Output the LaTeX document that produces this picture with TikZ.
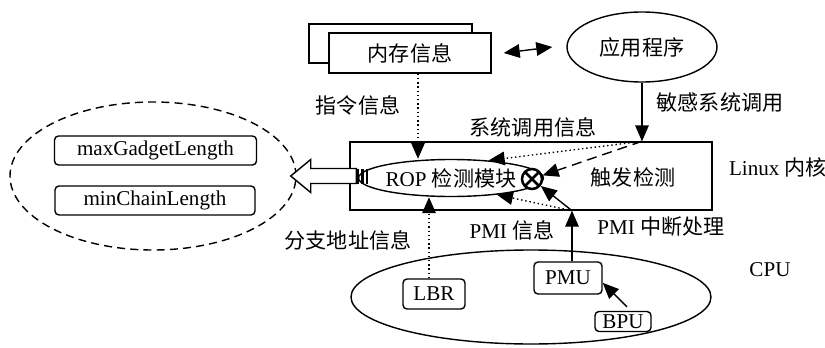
\documentclass[tikz,border=0pt]{standalone}
\usepackage{fontspec}
\setmainfont{Liberation Serif}
\newfontfamily\cjk{Noto Sans CJK SC}
\usepackage{tikz}
\usetikzlibrary{shapes,arrows.meta}
\tikzstyle{rectblock} = [rectangle, draw, line width=1pt, align=center, inner sep=1pt]
\tikzstyle{block} = [rectblock, rounded corners=1mm]
\tikzstyle{oval} = [ellipse, draw, line width=1pt, inner sep=0pt]
\tikzstyle{arrow} = [draw, line width=1pt, -{Triangle[length=4mm, width=3.4mm]}]
\tikzstyle{dblarrow} = [arrow, {Triangle[length=4mm, width=3.4mm]}-{Triangle[length=4mm, width=3.4mm]}]
\tikzstyle{dotarrow} = [arrow, dotted]
\tikzstyle{dasharrow} = [arrow, dash pattern=on 2.5mm off 1.5mm]

\begin{document}
\begin{tikzpicture}[font=\fontsize{15}{18}\selectfont]
    \useasboundingbox (0, 0) rectangle (20.625, 8.675);
    % memory and application
    \node[rectblock, minimum width=4.075cm, minimum height=0.975cm] at (9.7625, 7.5875) (memback) {};
    \node[rectblock, fill=white, minimum width=4.05cm, minimum height=1cm] at (10.25, 7.35) (mem) {\cjk 内存信息};
    \node[oval, minimum width=3.75cm, minimum height=1.75cm] at (16.05, 7.5) (app) {\cjk 应用程序};
    \path[dblarrow] ([xshift=0.3cm]mem.east) to ([xshift=-0.35cm]app.west);
    
    % kernel
    \node[rectblock, minimum width=9.05cm, minimum height=1.7cm] at (13.275, 4.275) (kern) {};
    \node at (15.825, 4.25) (trigdet) {\cjk 触发检测};
    \node at (19.45, 4.5) (linux) {Linux {\cjk 内核}};
    \node[oval, minimum width=3.95cm, minimum height=0.925cm] at (11.275, 4.225) (rop) {ROP {\cjk 检测模块}};
    \node[circle, draw, fill=white, line width=1.8pt, minimum size=0.5cm, inner sep=0pt,
          path picture={\draw[line width=1.8pt] (path picture bounding box.south west) -- (path picture bounding box.north east)
                        (path picture bounding box.north west) -- (path picture bounding box.south east);}] at (13.3, 4.2) (cross) {};
    
    % parameters
    \node[oval, dash pattern=on 2mm off 1.3mm, minimum width=7.15cm, minimum height=3.7cm] at (3.825, 4.275) (params) {};
    \node[block, minimum width=5.05cm, minimum height=0.725cm] at (3.8875, 4.9125) (maxg) {maxGadgetLength};
    \node[block, minimum width=5.0cm, minimum height=0.725cm] at (3.875, 3.6625) (minc) {minChainLength};
    \coordinate (tip) at ([xshift=-0.15cm]params.east);
    \draw[line width=1pt, fill=white] ([xshift=0.175cm, yshift=0.1875cm]kern.west) -| ([xshift=0.5cm, yshift=0.4125cm]tip)
        -- (tip) -- ([xshift=0.5cm, yshift=-0.4125cm]tip) |- ([xshift=0.175cm, yshift=-0.1875cm]kern.west) -- cycle;
    \foreach \x in {0.19, 0.3, 0.41}
        \fill ([xshift=\x cm, yshift=-0.1875cm]kern.west) rectangle ++(0.065, 0.375);
    
    % system calls
    \coordinate (trig) at (app.south |- kern.north);
    \path[arrow] (app.south) to (trig);
    \node at (18.0, 6.125) (senscall) {\cjk 敏感系统调用};
    \path[dotarrow] (trig) to (rop.25);
    \path[dasharrow] (trig) to (cross);
    \node at (13.325, 5.5) (callinfo) {\cjk 系统调用信息};
    \coordinate (m1) at ([xshift=0.2cm]mem.south);
    \path[dotarrow] (m1) to (m1 |- rop.north);
    \node at (8.95, 6.05) (instinfo) {\cjk 指令信息};
    
    % cpu
    \node[oval, minimum width=9cm, minimum height=2.35cm] at (13.275, 1.25) (cpu) {};
    \node at (19.25, 1.925) (cpulabel) {CPU};
    \node[block, minimum width=1.55cm, minimum height=0.75cm] at (10.85, 1.325) (lbr) {LBR};
    \node[block, minimum width=1.7cm, minimum height=0.8cm] at (14.2, 1.725) (pmu) {PMU};
    \node[block, minimum width=1.4cm, minimum height=0.5cm] at (15.575, 0.6375) (bpu) {BPU};
    \coordinate (pmi) at ([xshift=0.1cm]pmu.north |- kern.south);
    \path[arrow] ([xshift=0.1cm]pmu.north) to (pmi);
    \path[arrow] (pmi) to (cross);
    \path[dotarrow] (pmi) to (rop.-20);
    \path[arrow] ([xshift=0.1cm, yshift=0.1cm]bpu.north) to ([yshift=-0.12cm]pmu.east);
    \coordinate (l1) at ([xshift=-0.125cm]lbr.north);
    \path[dotarrow] (l1) to (l1 |- rop.south);
    \node at (12.8, 2.925) (pmiinfo) {PMI {\cjk 信息}};
    \node at (16.525, 3.0) (pmiint) {PMI {\cjk 中断处理}};
    \node at (8.7, 2.675) (brinfo) {\cjk 分支地址信息};
\end{tikzpicture}
\end{document}
